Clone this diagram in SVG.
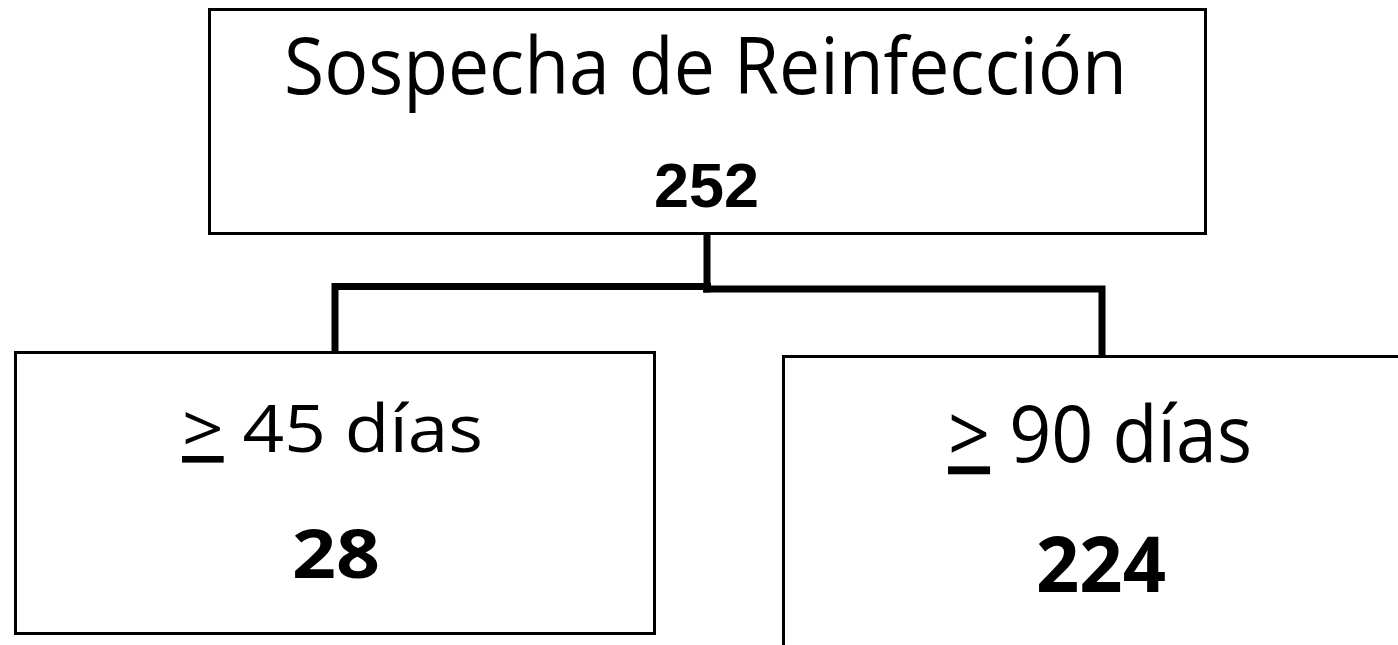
<svg xmlns="http://www.w3.org/2000/svg" width="1398" height="645" viewBox="0 0 1398 645">
<style>
.box{fill:#fff;stroke:#000;stroke-width:3}
.conn{fill:none;stroke:#000;stroke-width:7;stroke-linejoin:miter;stroke-linecap:butt}
.lbl{font-family:"Open Sans","Noto Sans","Liberation Sans",sans-serif;fill:#000;text-anchor:middle}
.num{font-family:"Open Sans","Noto Sans","Liberation Sans",sans-serif;font-weight:700;fill:#000;text-anchor:middle}
.numA{font-family:"Liberation Sans",Arial,sans-serif;font-weight:700;fill:#000;text-anchor:middle}
</style>
<rect width="1398" height="645" fill="#fff"/>
<g id="connectors">
<path class="conn" d="M335 352 V286.5 H711"/>
<path class="conn" d="M707 234 V292.5"/>
<path class="conn" d="M703 289 H1102 V356"/>
</g>
<g id="node-root">
<rect class="box" x="209.5" y="9.5" width="996" height="224"/>
<text class="lbl" x="705.5" y="94" font-size="78" textLength="843" lengthAdjust="spacingAndGlyphs">Sospecha de Reinfección</text>
<text class="numA" x="706.5" y="207" font-size="63">252</text>
</g>
<g id="node-45">
<rect class="box" x="15.5" y="352.5" width="639" height="281"/>
<text class="lbl" x="332.5" y="452" font-size="66" textLength="301" lengthAdjust="spacingAndGlyphs"><tspan text-decoration="underline">&gt;</tspan> 45 días</text>
<text class="num" x="336" y="578" font-size="66" textLength="88" lengthAdjust="spacingAndGlyphs">28</text>
</g>
<g id="node-90">
<rect class="box" x="783.5" y="356.5" width="640" height="320"/>
<g transform="translate(0,462) scale(1,1.2)">
<text class="lbl" x="1100" y="0" font-size="66" textLength="304" lengthAdjust="spacingAndGlyphs"><tspan text-decoration="underline">&gt;</tspan> 90 días</text>
</g>
<g transform="translate(0,592) scale(1,1.18)">
<text class="num" x="1101" y="0" font-size="66" textLength="130" lengthAdjust="spacingAndGlyphs">224</text>
</g>
</g>
</svg>
